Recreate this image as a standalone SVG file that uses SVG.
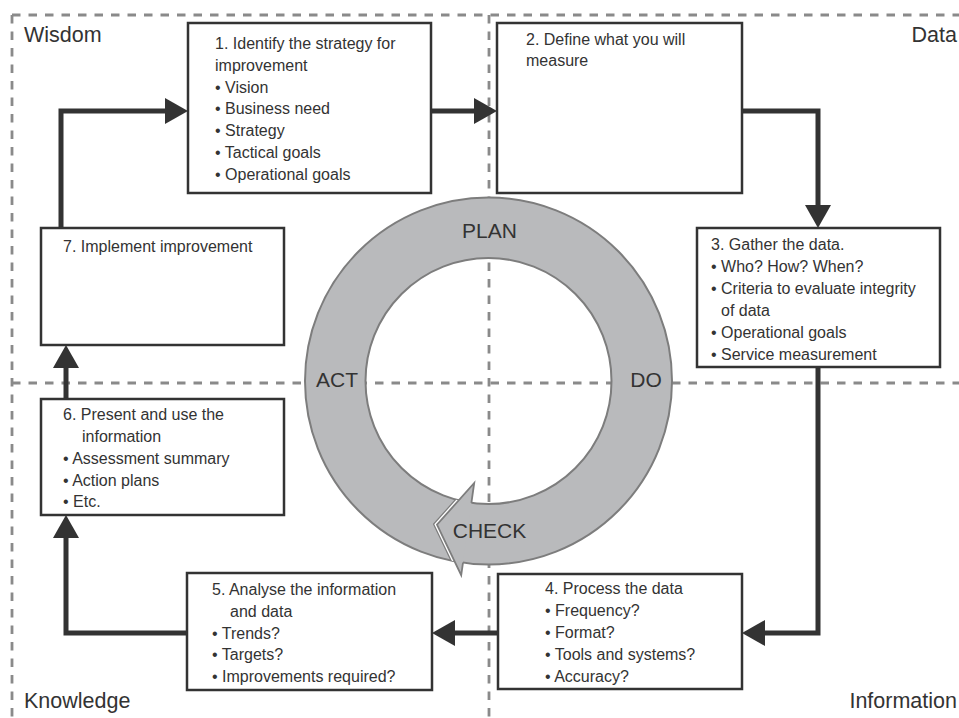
<svg xmlns="http://www.w3.org/2000/svg" width="959" height="718" viewBox="0 0 959 718">
  <style>
    .frame { fill: none; stroke: #8a8a8a; stroke-width: 2.8; stroke-dasharray: 8.5 8; }
    .box { fill: #fff; stroke: #333; stroke-width: 2.5; }
    .t { font-family: "Liberation Sans", Arial, sans-serif; font-size: 16px; fill: #333; }
    .q { font-family: "Liberation Sans", Arial, sans-serif; font-size: 21.5px; fill: #333; }
    .pdca { font-family: "Liberation Sans", Arial, sans-serif; font-size: 21px; fill: #333; text-anchor: middle; }
    .conn { fill: none; stroke: #333; stroke-width: 5; stroke-linejoin: miter; marker-end: url(#ah); }
    .ring { fill: #b9babc; stroke: #7d7d7d; stroke-width: 2; fill-rule: evenodd; }
  </style>
  <defs>
    <marker id="ah" markerUnits="userSpaceOnUse" markerWidth="24" markerHeight="26" refX="0" refY="13" orient="auto" viewBox="0 0 24 26">
      <path d="M0,0 L23,13 L0,26 z" fill="#333"/>
    </marker>
    <clipPath id="ringClip">
      <path clip-rule="evenodd" d="M305,381 A183.5,183.5 0 1 0 672,381 A183.5,183.5 0 1 0 305,381 Z M365.5,381 A123,123 0 1 0 611.5,381 A123,123 0 1 0 365.5,381 Z"/>
    </clipPath>
  </defs>

  <rect width="959" height="718" fill="#fff"/>

  <!-- quadrant frame -->
  <g id="frame">
    <path class="frame" d="M12,15 H959"/>
    <path class="frame" d="M12,15 V718"/>
    <path class="frame" d="M489,15 V718"/>
    <path class="frame" d="M12,383 H959"/>
    <text class="q" x="24" y="42">Wisdom</text>
    <text class="q" x="957" y="42" text-anchor="end">Data</text>
    <text class="q" x="24" y="708">Knowledge</text>
    <text class="q" x="957" y="708" text-anchor="end">Information</text>
  </g>

  <!-- PDCA cycle ring -->
  <g id="cycle">
    <path class="ring" d="M305,381 A183.5,183.5 0 1 0 672,381 A183.5,183.5 0 1 0 305,381 Z M365.5,381 A123,123 0 1 0 611.5,381 A123,123 0 1 0 365.5,381 Z"/>
    <g clip-path="url(#ringClip)">
      <polyline points="474.2,483 437,524.7 461.2,575.1" fill="none" stroke="#7d7d7d" stroke-width="7" stroke-linejoin="miter"/>
      <polyline points="474.2,483 437,524.7 461.2,575.1" fill="none" stroke="#fff" stroke-width="4.5" stroke-linejoin="miter"/>
    </g>
    <polygon points="474.2,483 437,524.7 461.2,575.1" fill="#b9babc"/>
    <path d="M471.4,502.8 L474.2,483 L437,524.7 L461.2,575.1 L463,562.7" fill="none" stroke="#7d7d7d" stroke-width="1.8" stroke-linejoin="miter"/>
    <text class="pdca" x="489.5" y="238">PLAN</text>
    <text class="pdca" x="646" y="387">DO</text>
    <text class="pdca" x="489.5" y="538">CHECK</text>
    <text class="pdca" x="337" y="387">ACT</text>
  </g>

  <!-- connectors -->
  <g id="connectors">
    <path class="conn" d="M61,228 V111 H165"/>
    <path class="conn" d="M431,111 H474"/>
    <path class="conn" d="M742,111 H818 V205"/>
    <path class="conn" d="M818,367 V633 H765"/>
    <path class="conn" d="M498,633 H455"/>
    <path class="conn" d="M187,633 H66 V538"/>
    <path class="conn" d="M66,399 V368"/>
  </g>

  <g id="step1">
    <rect class="box" x="188" y="23" width="243" height="170"/>
    <text class="t">
      <tspan x="215" y="49">1. Identify the strategy for</tspan>
      <tspan x="215" y="70.8">improvement</tspan>
      <tspan x="215" y="92.6">• Vision</tspan>
      <tspan x="215" y="114.4">• Business need</tspan>
      <tspan x="215" y="136.2">• Strategy</tspan>
      <tspan x="215" y="158">• Tactical goals</tspan>
      <tspan x="215" y="179.8">• Operational goals</tspan>
    </text>
  </g>

  <g id="step2">
    <rect class="box" x="497" y="23" width="245" height="170"/>
    <text class="t">
      <tspan x="526" y="45">2. Define what you will</tspan>
      <tspan x="526" y="66">measure</tspan>
    </text>
  </g>

  <g id="step3">
    <rect class="box" x="697" y="228" width="243" height="139"/>
    <text class="t">
      <tspan x="711" y="250">3. Gather the data.</tspan>
      <tspan x="711" y="272">• Who? How? When?</tspan>
      <tspan x="711" y="294">• Criteria to evaluate integrity</tspan>
      <tspan x="721" y="316">of data</tspan>
      <tspan x="711" y="338">• Operational goals</tspan>
      <tspan x="711" y="360">• Service measurement</tspan>
    </text>
  </g>

  <g id="step4">
    <rect class="box" x="498" y="574" width="244" height="115"/>
    <text class="t">
      <tspan x="545" y="594">4. Process the data</tspan>
      <tspan x="545" y="616">• Frequency?</tspan>
      <tspan x="545" y="638">• Format?</tspan>
      <tspan x="545" y="660">• Tools and systems?</tspan>
      <tspan x="545" y="682">• Accuracy?</tspan>
    </text>
  </g>

  <g id="step5">
    <rect class="box" x="187" y="573" width="245" height="117"/>
    <text class="t">
      <tspan x="212" y="595">5. Analyse the information</tspan>
      <tspan x="230" y="617">and data</tspan>
      <tspan x="212" y="638.5">• Trends?</tspan>
      <tspan x="212" y="660">• Targets?</tspan>
      <tspan x="212" y="682">• Improvements required?</tspan>
    </text>
  </g>

  <g id="step6">
    <rect class="box" x="41" y="399" width="243" height="116"/>
    <text class="t">
      <tspan x="63" y="420">6. Present and use the</tspan>
      <tspan x="82" y="442">information</tspan>
      <tspan x="63" y="464">• Assessment summary</tspan>
      <tspan x="63" y="486">• Action plans</tspan>
      <tspan x="63" y="507">• Etc.</tspan>
    </text>
  </g>

  <g id="step7">
    <rect class="box" x="41" y="228" width="243" height="117"/>
    <text class="t" x="63" y="252">7. Implement improvement</text>
  </g>
</svg>
